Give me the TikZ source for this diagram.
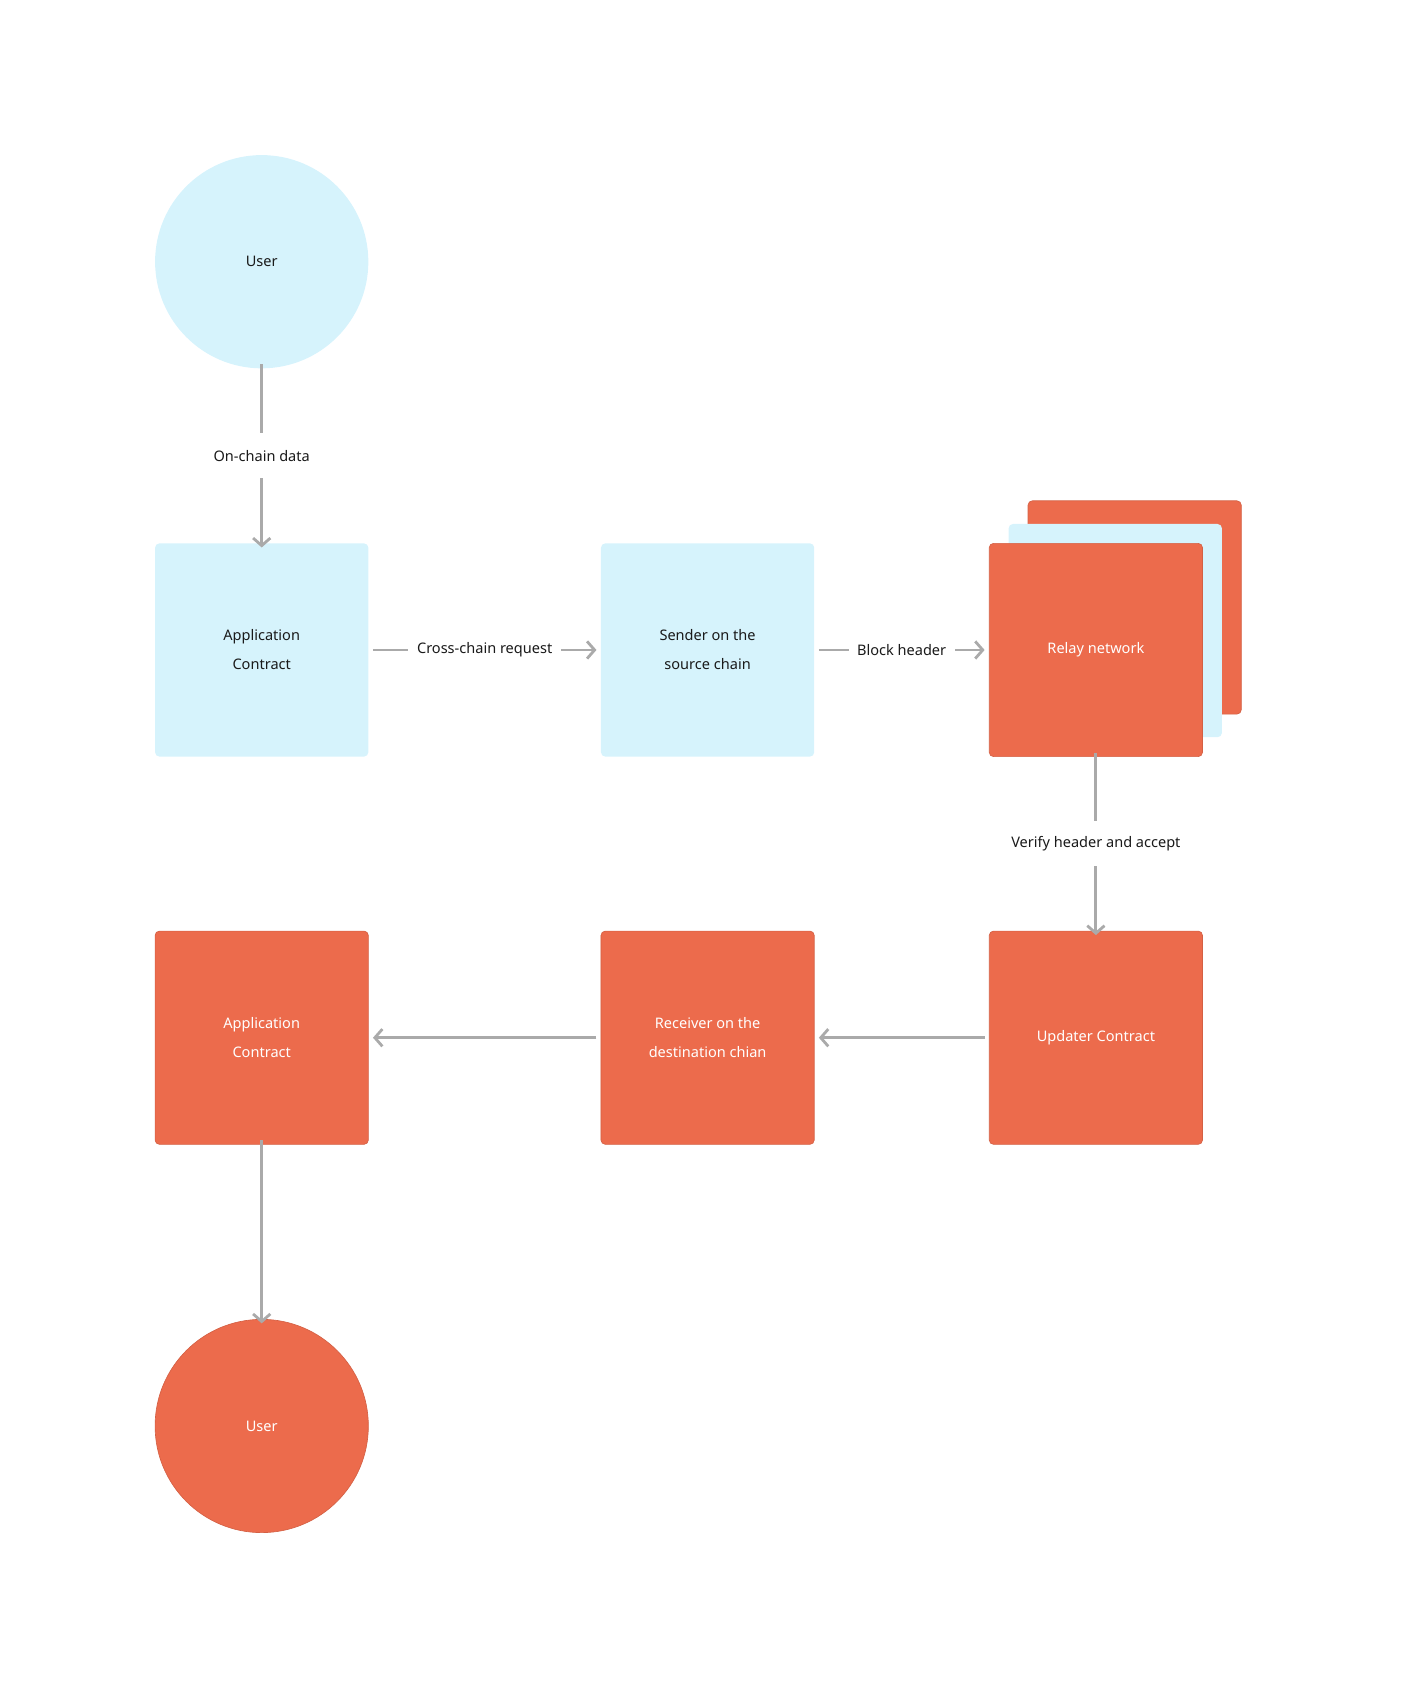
\documentclass[tikz,border=0pt]{standalone}
\usepackage{fontspec}
\setmainfont{Noto Sans}
\usetikzlibrary{arrows.meta}
\definecolor{lb}{HTML}{D6F3FC}
\definecolor{og}{HTML}{EC6B4C}
\definecolor{ln}{HTML}{AAAAAA}
\definecolor{tx}{HTML}{1A1A1A}
\begin{document}
\begin{tikzpicture}[x=1pt,y=-1pt,
 box/.style={minimum width=198pt,minimum height=198pt,rounded corners=4pt,align=center,font=\fontsize{13.5}{27}\selectfont,inner sep=0pt},
 bl/.style={box,fill=lb,text=tx},
 or/.style={box,fill=og,text=white,draw=og!90!black,line width=0.6pt},
 circ/.style={circle,minimum size=198pt,inner sep=0pt,font=\fontsize{13.5}{16}\selectfont},
 arr/.style={draw=ln,line width=2.6pt,-{Straight Barb[length=7pt,width=16pt,line width=2.6pt]}},
 lab/.style={fill=white,text=tx,font=\fontsize{13.5}{16}\selectfont,inner sep=8pt}]
\useasboundingbox (0,0) rectangle (1300,1571);
\node[circ,fill=lb,text=tx] (u1) at (243,243) {User};
\node[bl] (a1) at (243,603.5) {Application\\Contract};
\node[bl] (s1) at (657,603.5) {Sender on the\\source chain};
\node[or] (r3) at (1053.5,564) {};
\node[bl] (r2) at (1035.5,585.5) {};
\node[or] (r1) at (1017.5,603.5) {Relay network};
\node[or] (up) at (1017.5,963.5) {Updater Contract};
\node[or] (rc) at (657,963.5) {Receiver on the\\destination chian};
\node[or] (a2) at (243,963.5) {Application\\Contract};
\node[circ,fill=og,text=white,draw=og!90!black,line width=0.6pt] (u2) at (243,1324) {User};
\draw[arr] ([yshift=4pt]u1.south) -- node[lab,inner sep=0pt,minimum height=42pt]{On-chain data} ([yshift=-4pt]a1.north);
\draw[arr] ([xshift=4pt]a1.east) -- node[lab]{Cross-chain request} ([xshift=-4pt]s1.west);
\draw[arr] ([xshift=4pt]s1.east) -- node[lab]{Block header} ([xshift=-4pt]r1.west);
\draw[arr] ([yshift=4pt]r1.south) -- node[lab,inner sep=0pt,minimum height=42pt]{Verify header and accept} ([yshift=-4pt]up.north);
\draw[arr] ([xshift=-4pt]up.west) -- ([xshift=4pt]rc.east);
\draw[arr] ([xshift=-4pt]rc.west) -- ([xshift=4pt]a2.east);
\draw[arr] ([yshift=4pt]a2.south) -- ([yshift=-4pt]u2.north);
\end{tikzpicture}
\end{document}
